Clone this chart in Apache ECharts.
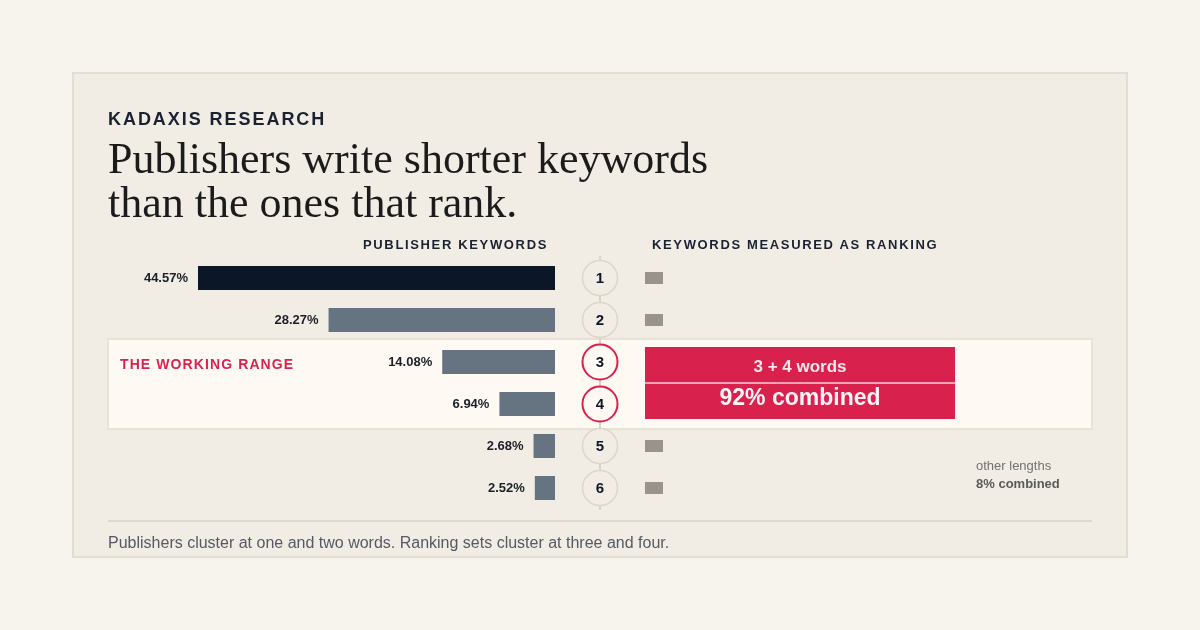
<!DOCTYPE html>
<html>
<head>
<meta charset="utf-8">
<script src="https://cdn.jsdelivr.net/npm/echarts@6/dist/echarts.min.js"></script>
<style>
  html, body { margin:0; padding:0; background:#f7f4ee; }
  body { width:1200px; height:630px; position:relative; overflow:hidden; font-family:"Liberation Sans", Arial, sans-serif; }
  #panel { position:absolute; left:72px; top:72px; width:1056px; height:486px; box-sizing:border-box; background:#f1ede5; border:2px solid #e3ded2; }
  #chart { position:absolute; left:0; top:0; width:1200px; height:630px; }
  .t { position:absolute; white-space:nowrap; z-index:5; }
  .eyebrow { left:108px; top:109px; font-size:18px; line-height:20px; font-weight:bold; letter-spacing:1.95px; color:#1a2130; }
  .headline { left:108px; top:137px; font-family:"Liberation Serif", "Times New Roman", serif; font-size:44px; line-height:44px; color:#1b1b1b; }
  .colhead { font-size:13px; line-height:16px; font-weight:bold; letter-spacing:1.65px; color:#1a2130; top:237px; }
  .range { left:120px; top:355px; font-size:14px; line-height:18px; font-weight:bold; letter-spacing:1.1px; color:#d6234f; }
  .note1 { left:976px; top:458px; font-size:13px; line-height:16px; color:#727272; }
  .note2 { left:976px; top:476px; font-size:13px; line-height:16px; font-weight:bold; color:#5a5a5a; }
  #rule { position:absolute; left:108px; top:520px; width:984px; height:2px; background:#e0dace; z-index:5; }
  .foot { left:108px; top:533px; font-size:16px; line-height:20px; color:#555a62; }
</style>
</head>
<body>
<div id="panel"></div>
<div id="chart"></div>
<div class="t eyebrow">KADAXIS RESEARCH</div>
<div class="t headline">Publishers write shorter keywords<br>than the ones that rank.</div>
<div class="t colhead" style="left:363px;">PUBLISHER KEYWORDS</div>
<div class="t colhead" style="left:652px;">KEYWORDS MEASURED AS RANKING</div>
<div class="t range">THE WORKING RANGE</div>
<div class="t note1">other lengths</div>
<div class="t note2">8% combined</div>
<div id="rule"></div>
<div class="t foot">Publishers cluster at one and two words. Ranking sets cluster at three and four.</div>
<script>
// ---- data ----
const wordCounts = ['1', '2', '3', '4', '5', '6'];
const publisherShare = [44.57, 28.27, 14.08, 6.94, 2.68, 2.52];
// ranking share for lengths outside the working range (estimated, ~8% combined)
const rankingOther = [2, 2, '-', '-', 2, 2];
// working range: word-count rows 3 and 4 combined
const workingRangeRows = [2, 3];
const workingRangeShare = 92;
const highlightRows = ['3', '4'];

const PANEL = '#f1ede5', BAND = '#fefaf3', RED = '#d8214d';

const chart = echarts.init(document.getElementById('chart'), null, { renderer: 'canvas' });

const gridTop = 257, gridH = 252;
const SANS = 'Liberation Sans, Arial, sans-serif';

const option = {
  animation: false,
  backgroundColor: 'transparent',
  graphic: [{
    type: 'rect', z: -10, silent: true,
    shape: { x: 108, y: 339, width: 984, height: 90 },
    style: { fill: BAND, stroke: '#e8e2d5', lineWidth: 2 }
  }],
  grid: [
    { left: 154.5, width: 400.5, top: gridTop, height: gridH },
    { left: 582, width: 36, top: gridTop, height: gridH },
    { left: 645, width: 337, top: gridTop, height: gridH }
  ],
  xAxis: [
    { gridIndex: 0, type: 'value', min: 0, max: 50, inverse: true, show: false },
    { gridIndex: 1, type: 'value', min: 0, max: 1, show: false },
    { gridIndex: 2, type: 'value', min: 0, max: 100, show: false }
  ],
  yAxis: [
    { gridIndex: 0, type: 'category', data: wordCounts, inverse: true, show: false },
    { gridIndex: 1, type: 'category', data: wordCounts, inverse: true, position: 'left', offset: -18, z: 1,
      axisLine: { show: true, lineStyle: { color: '#dbd4c7', width: 2 } },
      axisTick: { show: false }, axisLabel: { show: false }, splitLine: { show: false } },
    { gridIndex: 2, type: 'category', data: wordCounts, inverse: true, show: false }
  ],
  series: [
    {
      type: 'bar', xAxisIndex: 0, yAxisIndex: 0, barWidth: 24,
      data: publisherShare.map((v, i) => ({ value: v, itemStyle: { color: i === 0 ? '#0b1626' : '#667380' } })),
      label: {
        show: true, position: 'left', distance: 10,
        formatter: p => p.value.toFixed(2) + '%',
        fontFamily: SANS, fontWeight: 'bold', fontSize: 13, color: '#1b1f27'
      }
    },
    {
      type: 'scatter', xAxisIndex: 1, yAxisIndex: 1, symbol: 'circle', symbolSize: 35, z: 3,
      itemStyle: { opacity: 1 },
      emphasis: { disabled: true },
      data: wordCounts.map(c => {
        const hi = highlightRows.includes(c);
        return {
          value: [0.5, c],
          itemStyle: hi ? { color: BAND, borderColor: RED, borderWidth: 2, opacity: 1 }
                        : { color: PANEL, borderColor: '#ddd6c9', borderWidth: 1.5, opacity: 1 }
        };
      }),
      label: {
        show: true, position: 'inside', formatter: p => p.value[1], offset: [0, 1],
        fontFamily: SANS, fontWeight: 'bold', fontSize: 15, color: '#0f1726', opacity: 1
      }
    },
    {
      type: 'bar', xAxisIndex: 2, yAxisIndex: 2, barWidth: 12, barMinHeight: 18,
      data: rankingOther, itemStyle: { color: '#9b9389' }
    },
    {
      type: 'custom', xAxisIndex: 2, yAxisIndex: 2, z: 3,
      encode: { x: 0, y: [1, 2] },
      data: [[workingRangeShare, workingRangeRows[0], workingRangeRows[1]]],
      renderItem: function (params, api) {
        const v = api.value(0);
        const p0 = api.coord([0, api.value(1)]);
        const p1 = api.coord([v, api.value(2)]);
        const top = p0[1] - 15, bottom = p1[1] + 15;
        const x0 = p0[0], x1 = p1[0], mid = (p0[1] + p1[1]) / 2, cx = (x0 + x1) / 2;
        return {
          type: 'group',
          children: [
            { type: 'rect', shape: { x: x0, y: top, width: x1 - x0, height: bottom - top }, style: { fill: RED } },
            { type: 'line', shape: { x1: x0, y1: mid, x2: x1, y2: mid }, style: { stroke: 'rgba(255,235,240,0.85)', lineWidth: 1.5 } },
            { type: 'text', style: { text: '3 + 4 words', x: cx, y: p0[1] + 5, align: 'center', verticalAlign: 'middle',
                fill: '#fce6ec', fontFamily: SANS, fontWeight: 'bold', fontSize: 17 } },
            { type: 'text', style: { text: v + '% combined', x: cx, y: p1[1] - 5, align: 'center', verticalAlign: 'middle',
                fill: '#fff3f6', fontFamily: SANS, fontWeight: 'bold', fontSize: 23 } }
          ]
        };
      }
    }
  ]
};
chart.setOption(option);
</script>
</body>
</html>
